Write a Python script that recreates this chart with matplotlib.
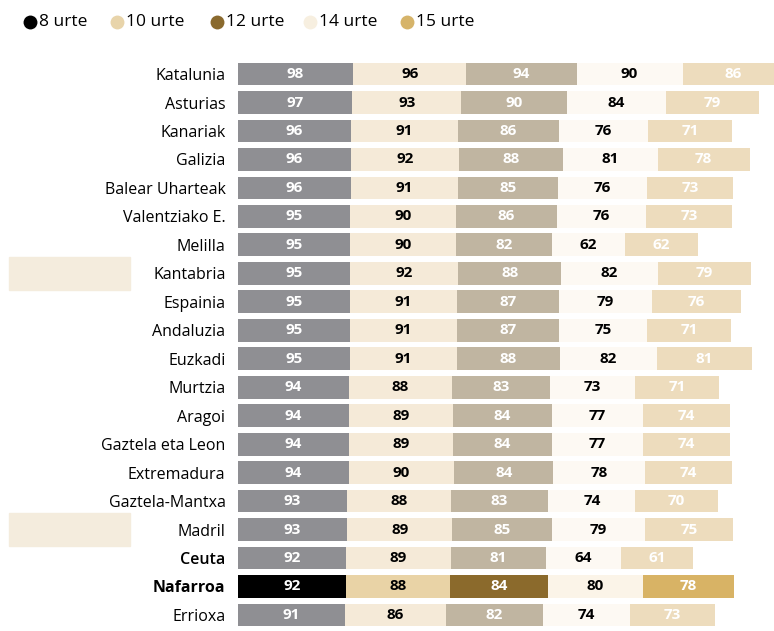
import matplotlib
matplotlib.use("Agg")
from matplotlib import pyplot as plt
from matplotlib.lines import Line2D
from matplotlib.patches import Rectangle
from matplotlib import transforms

# Ikasleen ehunekoak adinaren arabera, autonomia erkidegoka
regions = [
    "Katalunia", "Asturias", "Kanariak", "Galizia", "Balear Uharteak",
    "Valentziako E.", "Melilla", "Kantabria", "Espainia", "Andaluzia",
    "Euzkadi", "Murtzia", "Aragoi", "Gaztela eta Leon", "Extremadura",
    "Gaztela-Mantxa", "Madril", "Ceuta", "Nafarroa", "Errioxa",
]
age_groups = ["8 urte", "10 urte", "12 urte", "14 urte", "15 urte"]

urte8 = [98, 97, 96, 96, 96, 95, 95, 95, 95, 95, 95, 94, 94, 94, 94, 93, 93, 92, 92, 91]
urte10 = [96, 93, 91, 92, 91, 90, 90, 92, 91, 91, 91, 88, 89, 89, 90, 88, 89, 89, 88, 86]
urte12 = [94, 90, 86, 88, 85, 86, 82, 88, 87, 87, 88, 83, 84, 84, 84, 83, 85, 81, 84, 82]
urte14 = [90, 84, 76, 81, 76, 76, 62, 82, 79, 75, 82, 73, 77, 77, 78, 74, 79, 64, 80, 74]
urte15 = [86, 79, 71, 78, 73, 73, 62, 79, 76, 71, 81, 71, 74, 74, 74, 70, 75, 61, 78, 73]

series = [urte8, urte10, urte12, urte14, urte15]
highlight = "Nafarroa"
marked_rows = ["Kantabria", "Madril"]

base_colors = ["#8f8f93", "#f5ead8", "#c0b5a1", "#fdf9f3", "#eddcbd"]
focus_colors = ["#000000", "#e9d3a6", "#8b6a2c", "#fbf4e8", "#d8b365"]
legend_colors = ["#000000", "#e8d4aa", "#8a6a2e", "#f7efe0", "#d6b46a"]
text_colors = ["white", "black", "white", "black", "white"]

plt.rcParams["font.family"] = ["Open Sans", "DejaVu Sans"]

fig = plt.figure(figsize=(7.74, 6.31), dpi=100)
W, H = 774, 631
ax_left, ax_right = 238, 774
ax_top, ax_bottom = 59.8, 629.2
ax = fig.add_axes([ax_left / W, (H - ax_bottom) / H,
                   (ax_right - ax_left) / W, (ax_bottom - ax_top) / H])

px_per_unit = 1.176
ax.set_xlim(0, (ax_right - ax_left) / px_per_unit)
ax.set_ylim(len(regions) - 0.5, -0.5)

ypos = list(range(len(regions)))
left = [0] * len(regions)
for k, vals in enumerate(series):
    colors = [focus_colors[k] if r == highlight else base_colors[k] for r in regions]
    ax.barh(ypos, vals, left=left, height=0.8, color=colors, linewidth=0)
    for i, v in enumerate(vals):
        ax.text(left[i] + v / 2, i, str(v), ha="center", va="center",
                fontsize=11, fontweight="bold", color=text_colors[k], clip_on=False)
    left = [a + b for a, b in zip(left, vals)]

# beige marks left of some rows
blend = transforms.blended_transform_factory(fig.transFigure, ax.transData)
for r in marked_rows:
    i = regions.index(r)
    fig.patches.append(Rectangle((9 / W, i - 0.58), 121 / W, 1.16,
                                 transform=blend, color="#f4ecdd", zorder=0))

ax.set_yticks(ypos)
ax.set_yticklabels(regions, fontsize=11.5)
for lbl in ax.get_yticklabels():
    if lbl.get_text() == highlight:
        lbl.set_fontweight("bold")
    elif lbl.get_text() == "Ceuta":
        lbl.set_fontweight("semibold")
ax.tick_params(axis="y", length=0, pad=9)
ax.set_xticks([])
for s in ax.spines.values():
    s.set_visible(False)

# legend row across the top
dot_x = [30, 117, 217, 310, 407]
legend_y = 1 - 22 / H
for x, c, name in zip(dot_x, legend_colors, age_groups):
    fig.add_artist(Line2D([x / W], [legend_y], marker="o", markersize=10,
                          markerfacecolor=c, markeredgewidth=0,
                          transform=fig.transFigure))
    fig.text((x + 9) / W, legend_y, name, fontsize=12.5, va="center", ha="left")

fig.savefig("out.png", dpi=100)
